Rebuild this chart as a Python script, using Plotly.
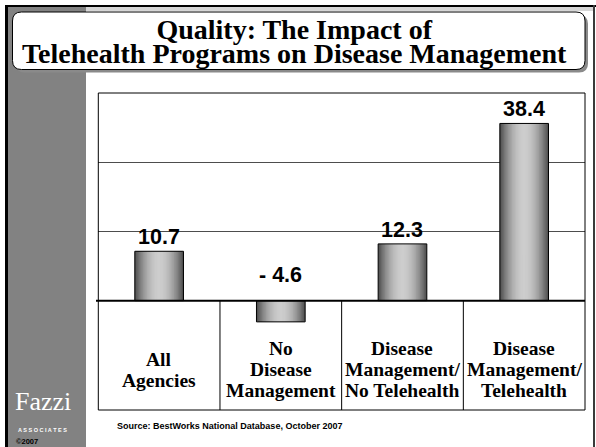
import plotly.graph_objects as go

W, H = 596, 447

# ---------------- data ----------------
categories = [
    "All<br>Agencies",
    "No<br>Disease<br>Management",
    "Disease<br>Management/<br>No Telehealth",
    "Disease<br>Management/<br>Telehealth",
]
values = [10.7, -4.6, 12.3, 38.4]
title_lines = ["Quality: The Impact of", "Telehealth Programs on Disease Management"]
source_text = "Source: BestWorks National Database, October 2007"
grid_values = [15, 30, 45]
y_min, y_max = -23.7, 45


def fmt(v):
    return f"{v:.1f}" if v >= 0 else f"- {abs(v):.1f}"


value_labels = [fmt(v) for v in values]

# ---------------- helpers (pixel -> paper) ----------------
def X(px):
    return px / W


def Y(py):
    return 1 - py / H


def rrect(x0, y0, x1, y1, r):
    return (
        f"M {X(x0 + r)},{Y(y0)} L {X(x1 - r)},{Y(y0)} "
        f"Q {X(x1)},{Y(y0)} {X(x1)},{Y(y0 + r)} "
        f"L {X(x1)},{Y(y1 - r)} Q {X(x1)},{Y(y1)} {X(x1 - r)},{Y(y1)} "
        f"L {X(x0 + r)},{Y(y1)} Q {X(x0)},{Y(y1)} {X(x0)},{Y(y1 - r)} "
        f"L {X(x0)},{Y(y0 + r)} Q {X(x0)},{Y(y0)} {X(x0 + r)},{Y(y0)} Z"
    )


PL, PR, PT, PB = 98.3, 585.0, 93.0, 410.0

fig = go.Figure()

# gradient bars built from overlaid bars of decreasing width
bar_w = 0.40
n_layers = 18
for k in range(n_layers):
    frac = 1 - k / n_layers
    g = int(round(205 - 125 * frac ** 2))
    fig.add_trace(go.Bar(
        x=categories, y=values, width=bar_w * frac,
        marker=dict(color=f"rgb({g},{g},{g})", line=dict(width=0)),
        hoverinfo="skip", showlegend=False,
    ))
# outline on top
fig.add_trace(go.Bar(
    x=categories, y=values, width=bar_w,
    marker=dict(color="rgba(0,0,0,0)", line=dict(width=1, color="black")),
    hoverinfo="skip", showlegend=False,
))

shapes = []
# outer frame
shapes.append(dict(type="rect", xref="paper", yref="paper", x0=X(5), x1=X(8), y0=Y(447), y1=Y(5),
                   fillcolor="black", line=dict(width=0), layer="below"))
shapes.append(dict(type="rect", xref="paper", yref="paper", x0=X(5), x1=X(596), y0=Y(7), y1=Y(5),
                   fillcolor="black", line=dict(width=0), layer="below"))
shapes.append(dict(type="rect", xref="paper", yref="paper", x0=X(593), x1=X(595), y0=Y(447), y1=Y(5),
                   fillcolor="#3a3a3a", line=dict(width=0), layer="below"))
# light strip at top
shapes.append(dict(type="rect", xref="paper", yref="paper", x0=X(86), x1=X(593), y0=Y(11), y1=Y(7),
                   fillcolor="#d6d6d6", line=dict(width=0), layer="below"))
# grey sidebar
shapes.append(dict(type="rect", xref="paper", yref="paper", x0=X(8), x1=X(86), y0=Y(447), y1=Y(7),
                   fillcolor="#828282", line=dict(width=0), layer="below"))
# title box shadow + box
shapes.append(dict(type="path", xref="paper", yref="paper", path=rrect(15.5, 15, 588, 72.5, 9),
                   fillcolor="#8a8a8a", line=dict(width=0), layer="below"))
shapes.append(dict(type="path", xref="paper", yref="paper", path=rrect(12.5, 12, 585, 69.5, 9),
                   fillcolor="white", line=dict(width=1, color="black"), layer="below"))
# zero line (extends slightly left of plot)
shapes.append(dict(type="line", xref="paper", yref="y", x0=X(96), x1=X(PR), y0=0, y1=0,
                   line=dict(width=2, color="black"), layer="above"))
# table dividers
for i in range(len(categories) - 1):
    shapes.append(dict(type="line", xref="x", yref="y", x0=i + 0.5, x1=i + 0.5, y0=y_min, y1=0,
                       line=dict(width=1, color="black"), layer="above"))
# plot border
shapes.append(dict(type="rect", xref="paper", yref="paper", x0=X(PL), x1=X(PR), y0=Y(PB), y1=Y(PT),
                   fillcolor="rgba(0,0,0,0)", line=dict(width=1, color="black"), layer="above"))

annotations = []
# title: one text block; small base size gives tight line spacing, spans give the glyph size
title_html = "<br>".join(f"<span style='font-size:28px'><b>{ln}</b></span>" for ln in title_lines)
annotations.append(dict(text=title_html, xref="paper", yref="paper", x=X(294), y=Y(41.4),
                        xanchor="center", yanchor="middle", align="center", showarrow=False, borderpad=0,
                        font=dict(family="Liberation Serif", size=18.6, color="black")))
# value labels
for c, v, t in zip(categories, values, value_labels):
    annotations.append(dict(text=f"<b>{t}</b>", xref="x", yref="y", x=c, y=max(v, 0),
                            xanchor="center", yanchor="bottom", showarrow=False,
                            yshift=0 if v >= 0 else 12,
                            font=dict(family="Liberation Sans", size=21.5, color="black")))
# category labels in table (one annotation per line for tight spacing)
mid_y, line_gap = 369.8, 21
for c in categories:
    lines = c.split("<br>")
    n = len(lines)
    for k, ln in enumerate(lines):
        cy = mid_y + line_gap * (k - (n - 1) / 2)
        annotations.append(dict(text=f"<b>{ln}</b>", xref="x", yref="paper", x=c, y=Y(cy),
                                xanchor="center", yanchor="middle", showarrow=False, borderpad=0,
                                font=dict(family="Liberation Serif", size=19.5, color="black")))
# source
annotations.append(dict(text=f"<b>{source_text}</b>", xref="paper", yref="paper", x=X(115), y=Y(426),
                        xanchor="left", yanchor="middle", showarrow=False,
                        font=dict(family="Liberation Sans", size=9, color="black")))
# logo
annotations.append(dict(text="Fazzi", xref="paper", yref="paper", x=X(42.7), y=Y(401),
                        xanchor="center", yanchor="middle", showarrow=False,
                        font=dict(family="Liberation Serif", size=26, color="white")))
annotations.append(dict(text="<b>A S S O C I A T E S</b>", xref="paper", yref="paper", x=X(42.5), y=Y(430),
                        xanchor="center", yanchor="middle", showarrow=False,
                        font=dict(family="Liberation Sans", size=5.5, color="white")))
annotations.append(dict(text="<b>©2007</b>", xref="paper", yref="paper", x=X(14.5), y=Y(441),
                        xanchor="left", yanchor="middle", showarrow=False, borderpad=0,
                        font=dict(family="Liberation Sans", size=7.5, color="black")))

fig.update_layout(
    width=W, height=H, autosize=False,
    margin=dict(l=0, r=0, t=0, b=0, pad=0),
    paper_bgcolor="white", plot_bgcolor="white",
    barmode="overlay", showlegend=False,
    shapes=shapes, annotations=annotations,
    xaxis=dict(domain=[X(PL), X(PR)], type="category", range=[-0.5, len(categories) - 0.5],
               showticklabels=False, showgrid=False, zeroline=False, showline=False, ticks=""),
    yaxis=dict(domain=[Y(PB), Y(PT)], range=[y_min, y_max], tickvals=grid_values,
               showticklabels=False, showgrid=True, gridcolor="#4d4d4d", gridwidth=1,
               zeroline=False, showline=False, ticks=""),
)

fig.write_html(
    "out.html",
    config={"displayModeBar": False},
    post_script="document.body.style.margin='0';document.body.style.padding='0';",
)
